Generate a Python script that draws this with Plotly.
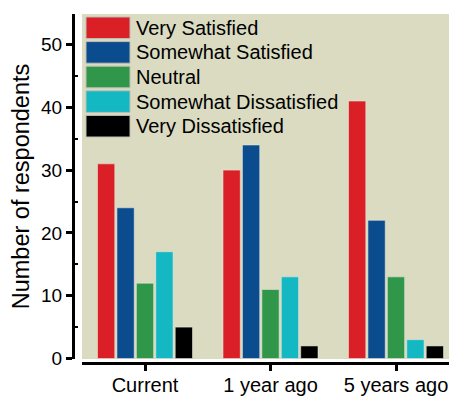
import plotly.graph_objects as go

categories = ["Current", "1 year ago", "5 years ago"]
series_names = ["Very Satisfied", "Somewhat Satisfied", "Neutral",
                "Somewhat Dissatisfied", "Very Dissatisfied"]
very_satisfied = [31, 30, 41]
somewhat_satisfied = [24, 34, 22]
neutral = [12, 11, 13]
somewhat_dissatisfied = [17, 13, 3]
very_dissatisfied = [5, 2, 2]
colors = ["#DA1F26", "#0B4C8E", "#30974A", "#14B8C3", "#000000"]
y_ticks = [0, 10, 20, 30, 40, 50]
y_title = "Number of respondents"

series_values = [very_satisfied, somewhat_satisfied, neutral,
                 somewhat_dissatisfied, very_dissatisfied]

# page body has an 8px default margin; figure is sized to fit the window
OFF = 8
W, H = 457 - OFF, 396 - OFF
ML, MR, MT, MB = 73 - OFF, 0, 14 - OFF, 33
PW, PH = W - ML - MR, H - MT - MB
FONT = "Liberation Sans, Arial, sans-serif"

def px_x(p):  # reference pixel -> paper x
    return (p - OFF - ML) / PW

def px_y(p):  # reference pixel -> paper y
    return (H - MB - (p - OFF)) / PH

fig = go.Figure()
for name, vals, col in zip(series_names, series_values, colors):
    fig.add_trace(go.Bar(
        x=categories, y=vals, name=name, showlegend=False,
        marker=dict(color=col, line=dict(color="rgba(235,235,225,0.55)", width=1)),
    ))

# manual legend (wide swatches)
shapes = []
annotations = []
for i, (name, col) in enumerate(zip(series_names, colors)):
    top = 17 + i * 24.6
    bot = top + 21.6
    shapes.append(dict(type="rect", xref="paper", yref="paper",
                       x0=px_x(86), x1=px_x(130), y0=px_y(bot), y1=px_y(top),
                       fillcolor=col, line=dict(color="rgba(190,190,180,1)", width=1)))
    annotations.append(dict(xref="paper", yref="paper", x=px_x(134), y=px_y((top + bot) / 2),
                            text=name, showarrow=False, xanchor="left", yanchor="middle",
                            font=dict(family=FONT, size=20, color="black")))

fig.update_layout(
    width=W, height=H,
    margin=dict(l=ML, r=MR, t=MT, b=MB, pad=0, autoexpand=False),
    paper_bgcolor="white",
    plot_bgcolor="#DADBC1",
    barmode="group",
    bargap=0.226,
    bargroupgap=0.11,
    font=dict(family=FONT, size=19, color="black"),
    shapes=shapes,
    annotations=annotations,
    xaxis=dict(
        domain=[px_x(82), 1],
        anchor="free", position=0,
        automargin=False,
        range=[-0.502, 2.486],
        showgrid=False, zeroline=False,
        showline=True, linecolor="black", linewidth=3,
        ticks="outside", ticklen=6, tickwidth=3, tickcolor="black",
        ticklabelstandoff=-3,
        tickfont=dict(family=FONT, size=20, color="black"),
    ),
    yaxis=dict(
        domain=[px_y(359), 1],
        anchor="free", position=0,
        automargin=False,
        range=[-0.08, 54.86],
        tickvals=y_ticks,
        showgrid=False, zeroline=False,
        showline=True, linecolor="black", linewidth=3,
        ticks="outside", ticklen=6, tickwidth=3, tickcolor="black",
        tickfont=dict(family=FONT, size=19, color="black"),
        minor=dict(ticks="inside", ticklen=3, tickwidth=2, tickcolor="black",
                   dtick=10, tick0=5, showgrid=False),
        title=dict(text=y_title, font=dict(family=FONT, size=23.5, color="black"), standoff=8),
    ),
)

fig.write_html("out.html")
